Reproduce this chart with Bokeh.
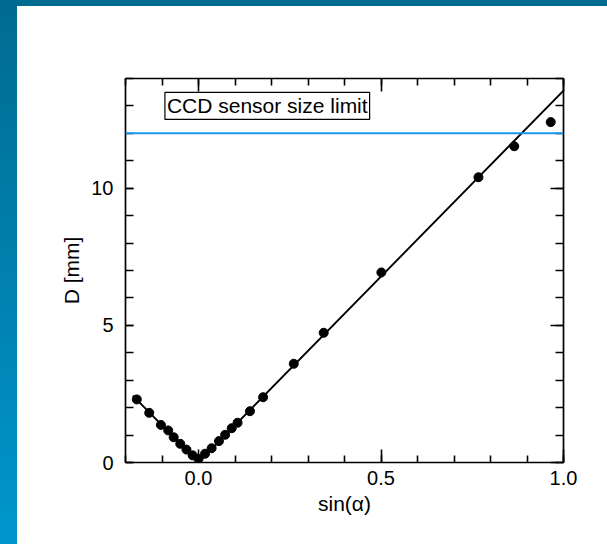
from bokeh.plotting import figure
from bokeh.models import (Range1d, LinearAxis, SingleIntervalTicker, NumeralTickFormatter,
                          CustomJSTickFormatter, Span, Label)
from bokeh.embed import file_html
from bokeh.resources import INLINE

# ---- data ----
sin_alpha = [-0.169, -0.135, -0.103, -0.083, -0.068, -0.050, -0.033, -0.016, 0.000,
             0.018, 0.036, 0.056, 0.073, 0.091, 0.107, 0.141, 0.177, 0.261, 0.343,
             0.501, 0.767, 0.865, 0.965]
D_mm = [2.30, 1.81, 1.37, 1.17, 0.92, 0.68, 0.47, 0.26, 0.13,
        0.32, 0.52, 0.78, 1.01, 1.25, 1.45, 1.87, 2.38, 3.60, 4.73,
        6.93, 10.40, 11.53, 12.41]
fit_x = [-0.18, 0.0, 1.0]
fit_D = [2.44, 0.0, 13.56]
ccd_limit = 12.0
ccd_text = "CCD sensor size limit"
x_label = "sin(\u03b1)"
y_label = "D [mm]"

FONT = "Liberation Sans"

p = figure(width=607, height=544, x_range=Range1d(-0.2, 1.0), y_range=Range1d(0, 14),
           output_backend="svg", toolbar_location=None,
           min_border_left=125, min_border_right=44, min_border_top=78, min_border_bottom=82,
           x_axis_location=None, y_axis_location=None)
p.styles = {
    "background": ("linear-gradient(#ffffff,#ffffff) 17px 6px / 100% 100% no-repeat, "
                   "linear-gradient(#006b91,#006b91) 0 0 / 100% 6px no-repeat, "
                   "linear-gradient(to bottom, #006b91, #0096cc)"),
}
p.border_fill_color = None
p.background_fill_color = None
p.outline_line_color = None
p.xgrid.visible = False
p.ygrid.visible = False

blank = CustomJSTickFormatter(code="return '';")


def style_axis(ax, major_in, minor_in):
    ax.axis_line_color = "black"
    ax.axis_line_width = 1.7
    ax.major_tick_line_color = "black"
    ax.major_tick_line_width = 1.6
    ax.minor_tick_line_color = "black"
    ax.minor_tick_line_width = 1.6
    ax.major_tick_in = major_in
    ax.major_tick_out = 0
    ax.minor_tick_in = minor_in
    ax.minor_tick_out = 0
    ax.major_label_text_font = FONT
    ax.major_label_text_color = "black"
    ax.major_label_text_font_size = "20px"
    ax.axis_label_text_font = FONT
    ax.axis_label_text_font_style = "normal"
    ax.axis_label_text_font_size = "21px"
    ax.axis_label_text_color = "black"


xb = LinearAxis(ticker=SingleIntervalTicker(interval=0.5, num_minor_ticks=5),
                formatter=NumeralTickFormatter(format="0.0"), axis_label=x_label)
style_axis(xb, 13, 7)
xb.major_label_standoff = 8
xb.axis_label_standoff = 4
p.add_layout(xb, "below")

xt = LinearAxis(ticker=SingleIntervalTicker(interval=0.5, num_minor_ticks=5), formatter=blank)
style_axis(xt, 13, 7)
p.add_layout(xt, "above")

yl = LinearAxis(ticker=SingleIntervalTicker(interval=5, num_minor_ticks=5), axis_label=y_label)
style_axis(yl, 8, 8)
yl.major_label_standoff = 12
yl.axis_label_standoff = 5
p.add_layout(yl, "left")

yr = LinearAxis(ticker=SingleIntervalTicker(interval=5, num_minor_ticks=5), formatter=blank)
style_axis(yr, 13, 8)
p.add_layout(yr, "right")

# CCD limit line and label
p.add_layout(Span(location=ccd_limit, dimension="width", line_color="#1a96ee", line_width=2))
p.add_layout(Label(x=-0.092, y=13.0, text=ccd_text, text_align="left", text_baseline="middle",
                   text_font=FONT, text_font_size="21px", text_color="black",
                   border_line_color="black", border_line_width=1.2,
                   background_fill_color="white", padding=2))

p.line(fit_x, fit_D, line_color="black", line_width=1.9)
p.scatter(sin_alpha, D_mm, size=9, fill_color="black", line_color="black")

open("out.html", "w").write(file_html(p, INLINE))
